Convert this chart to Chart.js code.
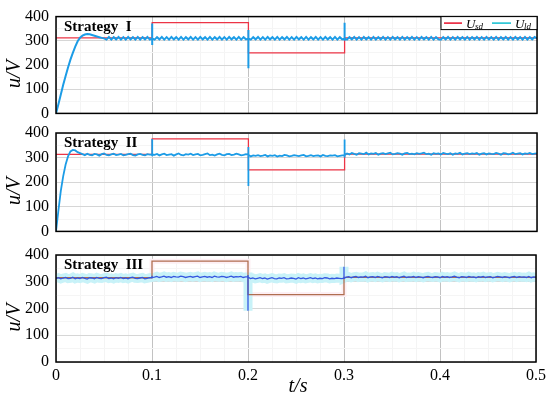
<!DOCTYPE html>
<html>
<head>
<meta charset="utf-8">
<script src="https://cdn.jsdelivr.net/npm/chart.js@4.4.0/dist/chart.umd.min.js"></script>
<style>
  body { margin: 0; background: #fff; }
  #wrap { position: relative; width: 550px; height: 395px; }
  canvas { position: absolute; left: 0; }
</style>
</head>
<body>
<div id="wrap">
  <canvas id="p1" width="550" height="130" style="top:0px"></canvas>
  <canvas id="p2" width="550" height="135" style="top:113px"></canvas>
  <canvas id="p3" width="550" height="160" style="top:235px"></canvas>
</div>
<script>
// sampling interval of the measured traces (s)
const dt = 0.0025;
const eventTimes = [0.1, 0.2, 0.3];

// reference voltage Usd (step changes)
const redT = [0, 0.1, 0.1, 0.2, 0.2, 0.3, 0.3, 0.5];
const usd1 = [312, 312, 375, 375, 250, 250, 312, 312];
const usd2 = [313, 313, 376, 376, 250, 250, 314, 314];
const usd3 = [315, 315, 377, 377, 252, 252, 316, 316];

// measured voltage Uld, one value per dt, rows of 10
const uld1 = [
  0, 38, 78, 118, 155, 190, 222, 250, 276, 298,
  313, 321, 326, 328, 327, 324, 321, 318, 315, 312,
  310, 305, 316, 305, 315, 306, 316, 305, 315, 305,
  316, 306, 315, 305, 316, 305, 315, 306, 316, 305,
  310, 305, 315, 306, 316, 305, 315, 305, 316, 306,
  315, 305, 316, 305, 315, 306, 316, 305, 315, 305,
  316, 306, 315, 305, 316, 305, 315, 306, 316, 305,
  315, 305, 316, 306, 315, 305, 316, 305, 315, 306,
  310, 305, 315, 306, 316, 305, 315, 305, 316, 306,
  315, 305, 316, 305, 315, 306, 316, 305, 315, 305,
  316, 306, 315, 305, 316, 305, 315, 306, 316, 305,
  315, 305, 316, 306, 315, 305, 316, 305, 315, 306,
  310, 305, 315, 306, 316, 305, 315, 305, 316, 306,
  315, 305, 316, 305, 315, 306, 316, 305, 315, 305,
  316, 306, 315, 305, 316, 305, 315, 306, 316, 305,
  315, 305, 316, 306, 315, 305, 316, 305, 315, 306,
  305, 315, 306, 316, 305, 315, 305, 316, 306, 315,
  305, 316, 305, 315, 306, 316, 305, 315, 305, 316,
  306, 315, 305, 316, 305, 315, 306, 316, 305, 315,
  305, 316, 306, 315, 305, 316, 305, 315, 306, 316,
  310
];
const uld2 = [
  0, 85, 165, 225, 272, 305, 325, 331, 329, 322,
  318, 314, 310, 316, 311, 309, 315, 313, 308, 314,
  317, 311, 309, 313, 316, 310, 312, 315, 309, 311,
  314, 316, 310, 308, 313, 315, 311, 309, 314, 312,
  313, 311, 315, 309, 313, 316, 310, 312, 314, 308,
  313, 317, 311, 309, 314, 312, 316, 310, 313, 315,
  309, 311, 314, 317, 310, 312, 308, 313, 316, 311,
  309, 314, 315, 310, 312, 316, 313, 309, 311, 314,
  312, 305, 309, 307, 310, 306, 308, 311, 305, 309,
  307, 310, 304, 308, 306, 311, 309, 305, 307, 310,
  308, 306, 309, 311, 305, 307, 310, 306, 308, 309,
  305, 311, 307, 306, 309, 308, 310, 305, 307, 309,
  309, 317, 313, 319, 315, 312, 318, 316, 314, 320,
  313, 317, 315, 319, 312, 316, 318, 314, 317, 320,
  313, 315, 318, 316, 312, 317, 319, 314, 316, 313,
  318, 315, 317, 320, 314, 316, 312, 318, 315, 317,
  313, 319, 316, 314, 318, 312, 317, 315, 320, 313,
  316, 318, 314, 317, 315, 319, 312, 316, 318, 313,
  317, 315, 314, 319, 316, 312, 318, 317, 313, 315,
  320, 314, 316, 318, 313, 317, 315, 319, 314, 316,
  317
];
const uld3 = [
  312, 315, 311, 314, 316, 312, 313, 317, 311, 314,
  312, 316, 313, 310, 315, 314, 311, 316, 313, 312,
  315, 317, 312, 314, 311, 315, 313, 316, 312, 314,
  311, 315, 317, 313, 312, 314, 316, 311, 313, 315,
  316, 317, 320, 316, 318, 321, 317, 319, 316, 320,
  318, 317, 321, 319, 316, 318, 320, 317, 319, 321,
  316, 318, 320, 317, 319, 316, 321, 318, 317, 320,
  319, 316, 318, 321, 317, 319, 318, 320, 316, 318,
  318, 312, 314, 311, 313, 315, 312, 314, 310, 313,
  315, 312, 311, 314, 313, 315, 311, 312, 314, 313,
  310, 315, 312, 314, 311, 313, 315, 312, 314, 311,
  313, 312, 315, 314, 311, 313, 312, 314, 313, 312,
  313, 317, 319, 315, 318, 320, 316, 318, 317, 321,
  315, 318, 319, 316, 320, 317, 315, 319, 318, 316,
  320, 317, 319, 315, 318, 321, 316, 318, 317, 320,
  316, 319, 317, 315, 318, 320, 317, 316, 319, 318,
  315, 320, 317, 319, 316, 318, 321, 317, 315, 319,
  318, 316, 320, 317, 318, 315, 319, 317, 320, 316,
  318, 319, 315, 317, 320, 318, 316, 319, 317, 315,
  318, 320, 316, 319, 317, 318, 316, 320, 315, 318,
  317
];

// transient peaks at each step [max, min]
const spike1 = [[372, 283], [345, 187], [375, 300]];
const spike2 = [[376, 305], [343, 185], [374, 300]];
const spike3 = [[322, 312], [325, 192], [356, 310]];

const yTicks = [0, 100, 200, 300, 400];
const xTicks = [0, 0.1, 0.2, 0.3, 0.4, 0.5];
const panelNames = ['Strategy  I', 'Strategy  II', 'Strategy  III'];

const serif = "'Liberation Serif', 'Times New Roman', serif";
Chart.defaults.font.family = serif;
Chart.defaults.color = '#000';

// Построение точек измеренного сигнала
function buildTrace(values, spikes) {
  const pts = [];
  values.forEach((v, i) => {
    const t = i * dt;
    pts.push({ x: t, y: v });
    const k = eventTimes.findIndex(e => Math.abs(e - t) < dt / 2);
    if (k >= 0) {
      pts.push({ x: t, y: spikes[k][0] }, { x: t, y: spikes[k][1] }, { x: t, y: v });
    }
  });
  return pts;
}

function buildRef(values) {
  return redT.map((t, i) => ({ x: t, y: values[i] }));
}

const isMajor = (v, step) => Math.abs(v / step - Math.round(v / step)) < 1e-6;

// Рамка, подписи и легенда
function decorPlugin(name, showLegend, showXTitle) {
  return {
    id: 'decor',
    afterDatasetsDraw(chart) {
      const { ctx, chartArea: a } = chart;
      ctx.save();
      ctx.strokeStyle = '#000';
      ctx.lineWidth = 1.5;
      ctx.strokeRect(a.left, a.top, a.right - a.left, a.bottom - a.top);

      ctx.fillStyle = '#000';
      ctx.font = 'bold 15px ' + serif;
      ctx.textAlign = 'left';
      ctx.textBaseline = 'alphabetic';
      ctx.fillText(name, a.left + 8, a.top + 14);

      if (showLegend) {
        const bx = 441, by = a.top, bw = a.right - 441, bh = 13;
        ctx.fillStyle = '#fff';
        ctx.fillRect(bx, by, bw, bh);
        ctx.strokeStyle = '#000';
        ctx.lineWidth = 1;
        ctx.strokeRect(bx, by, bw, bh);
        const ly = by + 6.5;
        ctx.lineWidth = 1.5;
        ctx.strokeStyle = '#e8102a';
        ctx.beginPath(); ctx.moveTo(444, ly); ctx.lineTo(462, ly); ctx.stroke();
        ctx.strokeStyle = '#10bfd0';
        ctx.beginPath(); ctx.moveTo(492, ly); ctx.lineTo(511, ly); ctx.stroke();
        ctx.fillStyle = '#000';
        ctx.font = 'italic 13px ' + serif;
        ctx.fillText('U', 466, by + 11);
        ctx.fillText('U', 515, by + 11);
        ctx.font = 'italic 9px ' + serif;
        ctx.fillText('sd', 475, by + 12);
        ctx.fillText('ld', 524, by + 12);
      }

      ctx.fillStyle = '#000';
      ctx.font = 'italic 20px ' + serif;
      ctx.textAlign = 'center';
      ctx.textBaseline = 'middle';
      if (showXTitle) {
        ctx.fillText('t/s', (a.left + a.right) / 2 + 2, a.bottom + 25);
      }
      ctx.translate(15, (a.top + a.bottom) / 2 + 9);
      ctx.rotate(-Math.PI / 2);
      ctx.fillText('u/V', 0, 0);
      ctx.restore();
    }
  };
}

function makePanel(id, idx, uld, spikes, usd, style) {
  const showX = idx === 2;
  const pads = [
    { top: 10, right: 13, bottom: 13, left: 0 },
    { top: 20, right: 13, bottom: 9, left: 0 },
    { top: 20, right: 13, bottom: 0, left: 0 }
  ];
  const trace = buildTrace(uld, spikes);
  const ref = buildRef(usd);
  const datasets = [
    { data: trace, borderColor: style.blue, borderWidth: style.blueWidth, order: 0 },
    { data: ref, borderColor: style.red, borderWidth: 1.3, order: 1 }
  ];
  if (style.halo) {
    datasets.push({ data: trace, borderColor: style.halo, borderWidth: 9, order: 2 });
    datasets.push({ data: ref, borderColor: style.redHalo, borderWidth: 5, order: 3 });
  }
  datasets.forEach(d => { d.pointRadius = 0; d.tension = 0; d.fill = false; });

  return new Chart(document.getElementById(id), {
    type: 'line',
    data: { datasets },
    options: {
      responsive: false,
      animation: false,
      layout: { padding: pads[idx] },
      plugins: { legend: { display: false }, tooltip: { enabled: false } },
      scales: {
        x: {
          type: 'linear', min: 0, max: 0.5,
          afterFit: s => { s.height = showX ? 33 : 0; },
          afterBuildTicks: s => {
            const ticks = [];
            for (let k = 0; k <= 20; k++) ticks.push({ value: k * 0.025 });
            s.ticks = ticks;
          },
          ticks: {
            display: showX, autoSkip: false, maxRotation: 0, padding: 4,
            color: '#000', font: { family: serif, size: 16 },
            callback: v => {
              const hit = xTicks.find(t => Math.abs(t - v) < 1e-6);
              return hit === undefined ? '' : String(hit);
            }
          },
          grid: {
            drawTicks: false,
            color: c => isMajor(c.tick.value, 0.1) ? '#c2c2c2' : '#f4f4f4'
          },
          border: { display: false }
        },
        y: {
          min: 0, max: 400,
          afterFit: s => { s.width = 56; },
          afterBuildTicks: s => {
            const ticks = [];
            for (let k = 0; k <= 8; k++) ticks.push({ value: k * 50 });
            s.ticks = ticks;
          },
          ticks: {
            autoSkip: false, padding: 7,
            color: '#000', font: { family: serif, size: 16 },
            callback: v => yTicks.includes(v) ? String(v) : ''
          },
          grid: {
            drawTicks: false,
            color: c => isMajor(c.tick.value, 100) ? '#d6d6d6' : '#f5f5f5'
          },
          border: { display: false }
        }
      }
    },
    plugins: [decorPlugin(panelNames[idx], idx === 0, showX)]
  });
}

makePanel('p1', 0, uld1, spike1, usd1, { blue: '#1c9ce6', blueWidth: 2, red: '#ec3446' });
makePanel('p2', 1, uld2, spike2, usd2, { blue: '#1c9ce6', blueWidth: 1.8, red: '#ec3446' });
makePanel('p3', 2, uld3, spike3, usd3, {
  blue: '#3456e0', blueWidth: 1.3, red: '#b06e50',
  halo: '#c8f2f8', redHalo: '#fdeff4'
});
</script>
</body>
</html>
